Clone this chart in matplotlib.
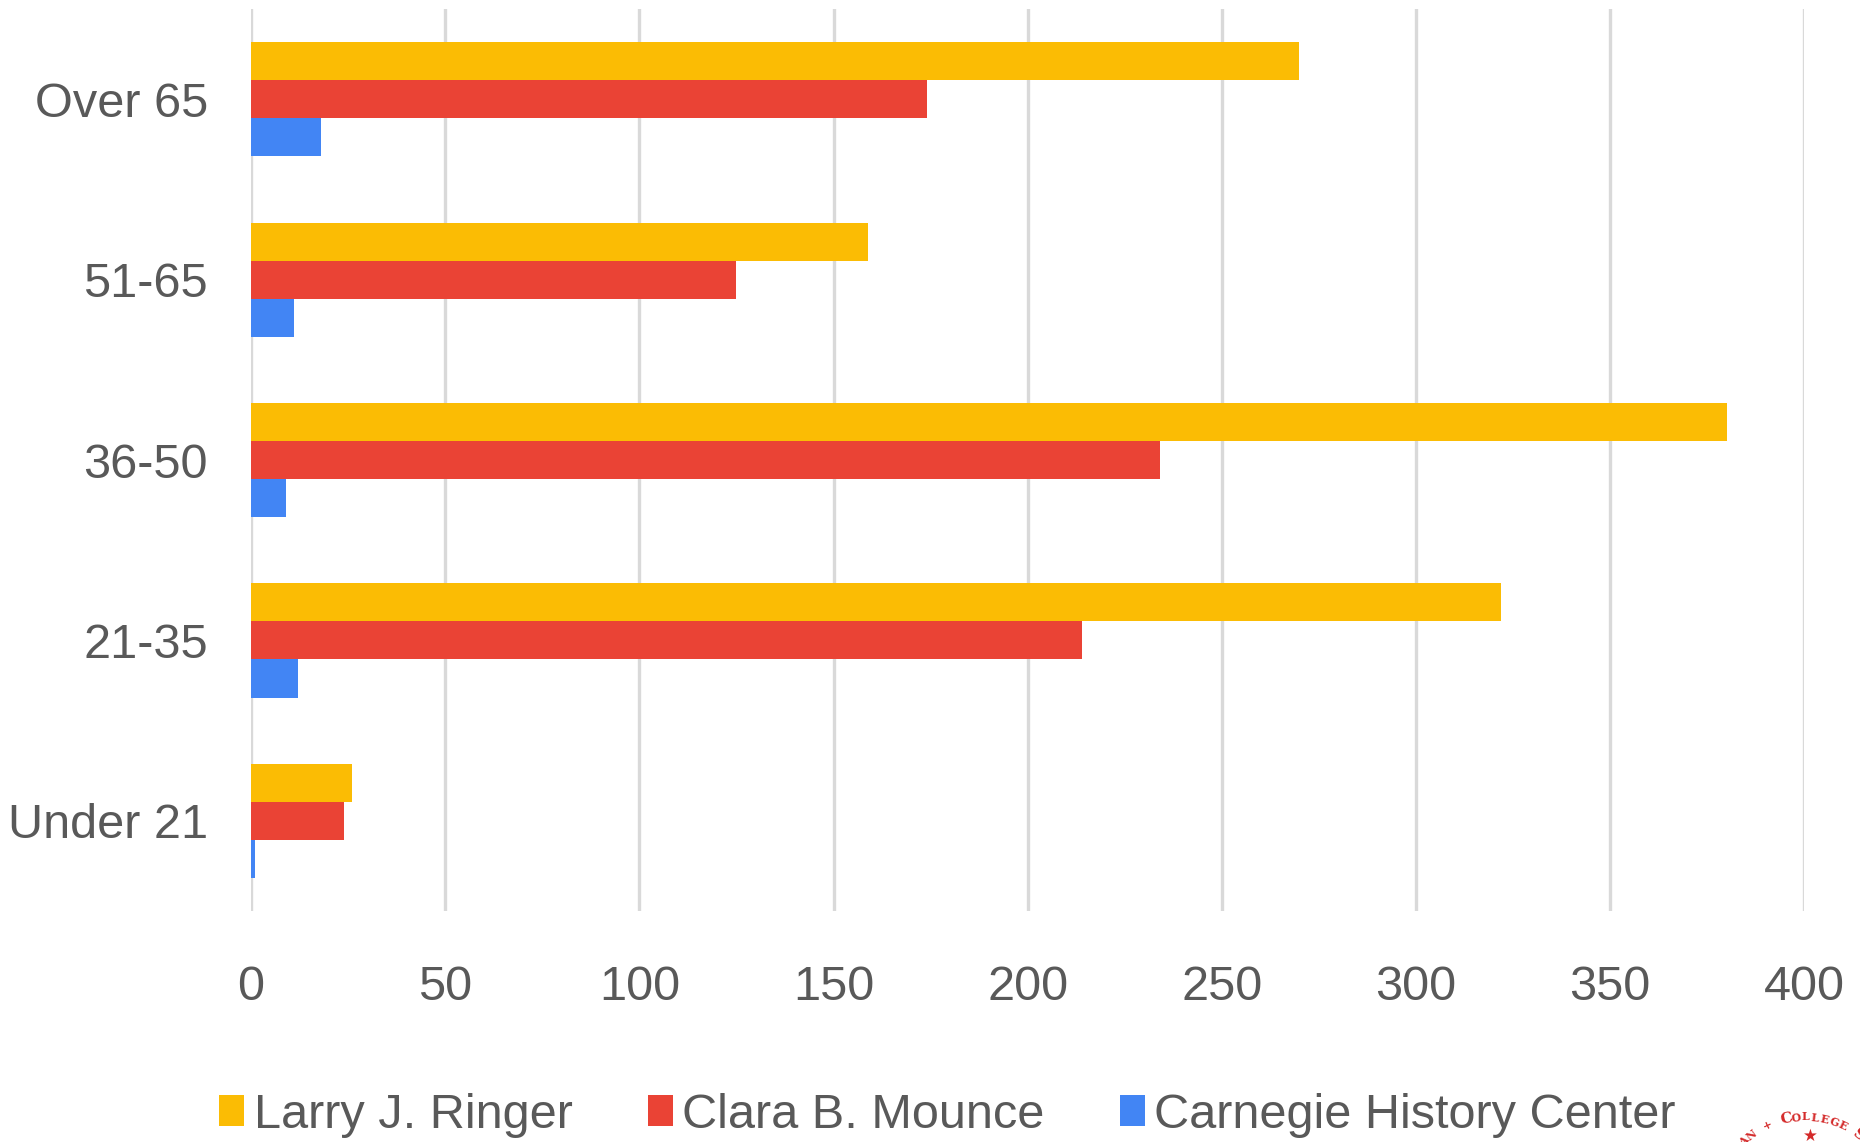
import numpy as np
import matplotlib.pyplot as plt

#%% data
categories = ["Over 65", "51-65", "36-50", "21-35", "Under 21"]
ringer = [270, 159, 380, 322, 26]
mounce = [174, 125, 234, 214, 24]
carnegie = [18, 11, 9, 12, 1]
series_names = ["Larry J. Ringer", "Clara B. Mounce", "Carnegie History Center"]
xticks = [0, 50, 100, 150, 200, 250, 300, 350, 400]

plt.rcParams['font.family'] = ['Liberation Sans', 'DejaVu Sans']

colors = ["#FBBC04", "#EA4335", "#4285F4"]
txt_col = "#595959"
fs = 35

#%% plot
fig = plt.figure(figsize=(18.6, 11.42), dpi=100)
ax = fig.add_axes([0.135, 0.2023, 0.835, 0.7897])

y = np.arange(len(categories))
h = 0.211
for i, (vals, name) in enumerate(zip([ringer, mounce, carnegie], series_names)):
    ax.barh(y + (i - 1) * h, vals, height=h, color=colors[i], label=name, zorder=3)

ax.set_xlim(0, 400)
ax.set_ylim(4.5, -0.5)
ax.set_xticks(xticks)
ax.set_yticks(y)
ax.set_yticklabels(categories)
ax.tick_params(axis='both', length=0, labelsize=fs, colors=txt_col)
ax.tick_params(axis='y', pad=31)
ax.tick_params(axis='x', pad=39)
for s in ax.spines.values():
    s.set_visible(False)
ax.grid(axis='x', color="#d9d9d9", lw=2.4, zorder=0)
ax.set_axisbelow(True)

fig.legend(loc='center left', bbox_to_anchor=(219 / 1860, 1 - 1115 / 1142), ncol=3,
           frameon=False, fontsize=fs, labelcolor=txt_col, borderpad=0, borderaxespad=0,
           handlelength=0.51, handleheight=0.6, handletextpad=0.2, columnspacing=1.55)

# partial seal in the corner
seal = "AN + COLLEGE S"
sizes = [8, 8, 8, 8, 8, 11, 8, 8, 8, 8, 8, 8, 8, 11]
cx, cy, r = 1805, 1205, 88
angs = np.linspace(134, 52, len(seal))
for ch, a, s in zip(seal, angs, sizes):
    px = cx + r * np.cos(np.radians(a))
    py = cy - r * np.sin(np.radians(a))
    fig.text(px / 1860, 1 - py / 1142, ch, color="#d42a2a", fontsize=s, fontweight='bold',
             family='DejaVu Serif', rotation=a - 90, ha='center', va='center')
fig.text(1810 / 1860, 1 - 1136 / 1142, "★", color="#d42a2a", fontsize=12, ha='center', va='center')

plt.savefig("out.png", dpi=100)
